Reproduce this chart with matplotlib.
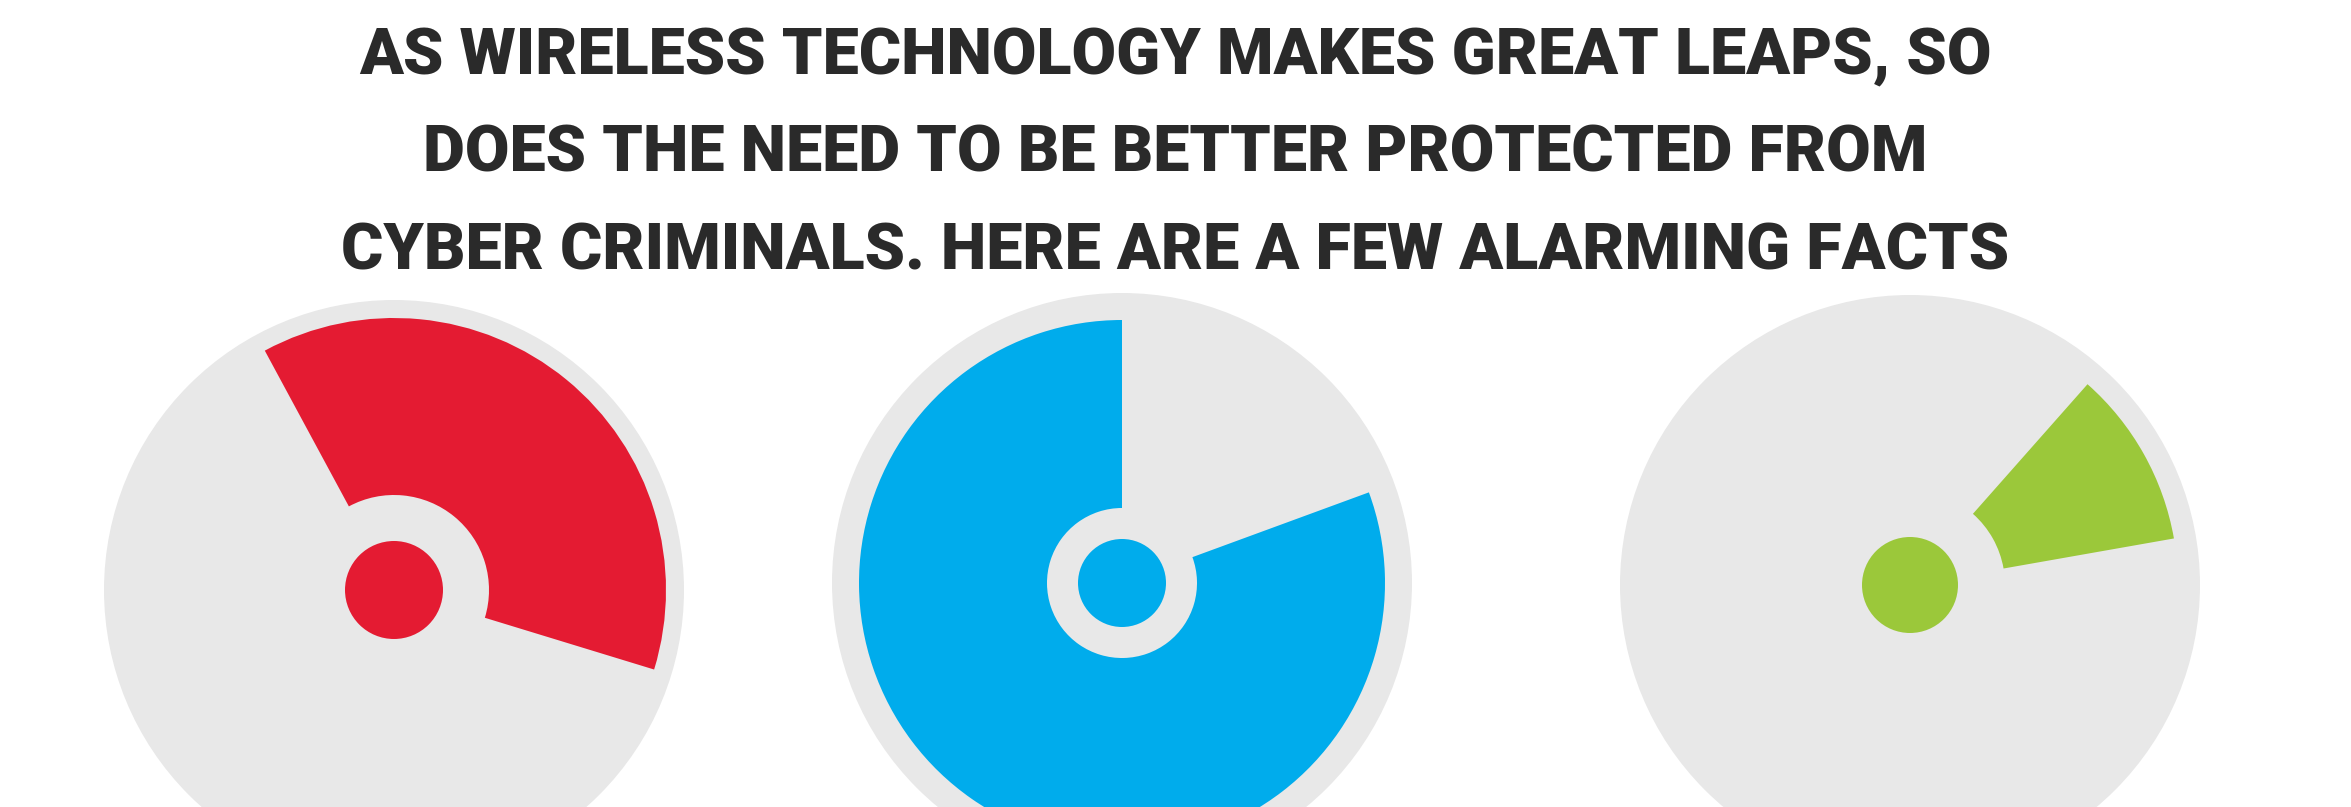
import numpy as np
import matplotlib
matplotlib.use('Agg')
import matplotlib.pyplot as plt
from matplotlib.patches import Circle, Wedge

W, H = 2351, 807

title_lines = [
    'AS WIRELESS TECHNOLOGY MAKES GREAT LEAPS, SO',
    'DOES THE NEED TO BE BETTER PROTECTED FROM',
    'CYBER CRIMINALS. HERE ARE A FEW ALARMING FACTS',
]

# share of each dial that is coloured (percent) and where the coloured arc starts (deg)
share_pct = [37.6, 80.6, 10.7]
start_deg = [-17.0, 90.0, 10.0]
colors = ['#e41b32', '#00acec', '#9bc83a']

# layout (pixels, image coords)
centers_x = [394, 1122, 1910]
centers_y = [590, 583, 585]
disc_r = 290
outer_r = [272, 263, 268]
inner_r = [95, 75, 95]
dot_r = [49, 44, 48]

fig = plt.figure(figsize=(W / 100, H / 100), dpi=100)
ax = fig.add_axes([0, 0, 1, 1])
ax.set_xlim(0, W)
ax.set_ylim(0, H)
ax.set_aspect('equal')
ax.axis('off')

for i in range(3):
    cx = centers_x[i]
    cy = H - centers_y[i]
    ax.add_patch(Circle((cx, cy), disc_r, color='#e8e8e8', lw=0))
    t1 = start_deg[i]
    t2 = t1 + share_pct[i] * 3.6
    ax.add_patch(Wedge((cx, cy), outer_r[i], t1, t2,
                       width=outer_r[i] - inner_r[i], color=colors[i], lw=0))
    ax.add_patch(Circle((cx, cy), dot_r[i], color=colors[i], lw=0))

line_y = [56, 153, 251]
for txt, y in zip(title_lines, line_y):
    ax.text(W / 2, H - y, txt, ha='center', va='center', fontsize=46.5,
            fontweight='black', family=['Roboto', 'DejaVu Sans'], color='#2a2a2a')

plt.savefig('out.png', dpi=100, facecolor='white')
